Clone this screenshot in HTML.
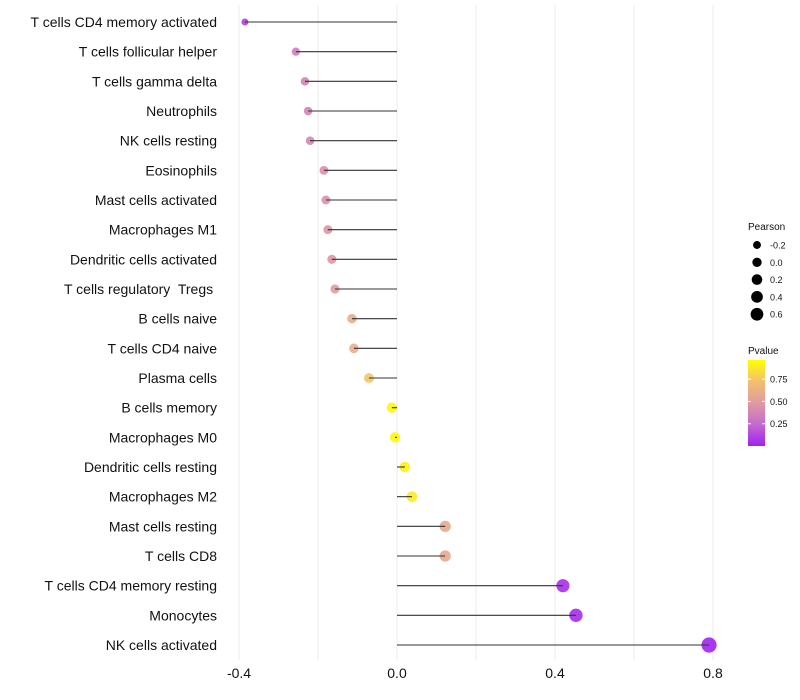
<!DOCTYPE html>
<html><head><meta charset="utf-8"><style>
body{margin:0;background:#fff;}
svg{display:block;font-family:"Liberation Sans",sans-serif;}
text{white-space:pre;}
</style></head><body>
<svg id="c" width="800" height="700">
<defs><linearGradient id="pg" x1="0" y1="1" x2="0" y2="0">
<stop offset="0" stop-color="#a020f0"/><stop offset="0.25" stop-color="#c46ad0"/><stop offset="0.5" stop-color="#e09aa0"/><stop offset="0.75" stop-color="#f2c070"/><stop offset="1" stop-color="#ffff00"/>
</linearGradient></defs>
<g id="grid"></g><g id="marks"></g><g id="ylab"></g><g id="xlab"></g>
<g id="legend"></g>
</svg>
<script>
const categories=["T cells CD4 memory activated","T cells follicular helper","T cells gamma delta","Neutrophils","NK cells resting","Eosinophils","Mast cells activated","Macrophages M1","Dendritic cells activated","T cells regulatory  Tregs ","B cells naive","T cells CD4 naive","Plasma cells","B cells memory","Macrophages M0","Dendritic cells resting","Macrophages M2","Mast cells resting","T cells CD8","T cells CD4 memory resting","Monocytes","NK cells activated"];
const pearson=[-0.385,-0.256,-0.233,-0.225,-0.22,-0.185,-0.18,-0.175,-0.165,-0.157,-0.114,-0.109,-0.071,-0.013,-0.005,0.02,0.038,0.122,0.122,0.42,0.453,0.79];
const pvalue=[0.1,0.35,0.38,0.38,0.4,0.45,0.46,0.47,0.48,0.52,0.62,0.63,0.77,0.97,0.98,0.95,0.92,0.6,0.6,0.05,0.04,0.01];
const xTicks=[-0.4,0,0.4,0.8];
const xTickLabels=["-0.4","0.0","0.4","0.8"];
const gridVals=[-0.4,-0.2,0,0.2,0.4,0.6,0.8];
const sizeLegend=[-0.2,0,0.2,0.4,0.6];
const pLegend=[0.25,0.5,0.75];
const NS="http://www.w3.org/2000/svg";
const x=v=>397+v*395;
const y=i=>22+i*29.667;
const r=v=>Math.sqrt(Math.max(2,27+38.5*v));
const stops=[[0,"#a020f0"],[0.25,"#c46ad0"],[0.5,"#e09aa0"],[0.75,"#f2c070"],[1,"#ffff00"]];
function hex(h){return [1,3,5].map(i=>parseInt(h.slice(i,i+2),16));}
function col(p){for(let k=0;k<stops.length-1;k++){const [a,ca]=stops[k],[b,cb]=stops[k+1];if(p<=b||k==stops.length-2){const t=Math.min(1,Math.max(0,(p-a)/(b-a)));const A=hex(ca),B=hex(cb);return "rgb("+A.map((c,i)=>Math.round(c+(B[i]-c)*t)).join(",")+")";}}}
function el(t,a,parent){const e=document.createElementNS(NS,t);for(const k in a)e.setAttribute(k,a[k]);parent.appendChild(e);return e;}
const G=document.getElementById("grid"),M=document.getElementById("marks"),YL=document.getElementById("ylab"),XL=document.getElementById("xlab"),L=document.getElementById("legend");
gridVals.forEach(v=>{const l=el("line",{x1:x(v),x2:x(v),y1:5,y2:660,stroke:"#ebebeb","stroke-width":1},G);

});
categories.forEach((c,i)=>{
const d=el("circle",{cx:x(pearson[i]),cy:y(i),r:r(pearson[i]),fill:col(pvalue[i]),"fill-opacity":0.9},M);


const s=el("line",{x1:x(0),x2:x(pearson[i]),y1:y(i),y2:y(i),stroke:"#333","stroke-width":1.1},M);


const t=el("text",{x:217,y:y(i)+5,"text-anchor":"end","font-size":14,fill:"#111"},YL);t.textContent=c;


});
xTicks.forEach((v,i)=>{const t=el("text",{x:x(v),y:678,"text-anchor":"middle","font-size":14,fill:"#111"},XL);t.textContent=xTickLabels[i];

});
let t=el("text",{x:748,y:230,"font-size":10,fill:"#111"},L);t.textContent="Pearson";


sizeLegend.forEach((v,i)=>{const cy=245+i*17.3;
const c=el("circle",{cx:757,cy:cy,r:r(v)*0.9,fill:"#000"},L);


const tt=el("text",{x:770,y:cy+3.5,"font-size":9,fill:"#111"},L);tt.textContent=v.toFixed(1);

});
t=el("text",{x:748,y:354,"font-size":10,fill:"#111"},L);t.textContent="Pvalue";


const bar=el("rect",{x:748,y:360,width:17,height:86,fill:"url(#pg)"},L);


const py=p=>445.5-(p-0.006)/0.964*86;
pLegend.forEach(p=>{el("line",{x1:748,x2:751,y1:py(p),y2:py(p),stroke:"#fff"},L);el("line",{x1:762,x2:765,y1:py(p),y2:py(p),stroke:"#fff"},L);
const tt=el("text",{x:770,y:py(p)+3.5,"font-size":9,fill:"#111"},L);tt.textContent=p.toFixed(2);

});
</script>
</body></html>
